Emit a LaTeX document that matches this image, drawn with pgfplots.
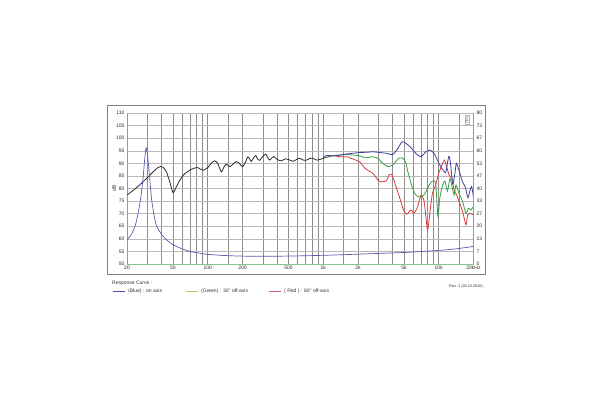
\documentclass[border=0pt]{standalone}
\usepackage{fontspec}
\setmainfont{Liberation Sans}
\usepackage{pgfplots}
\usepackage{pgfplotstable}
\pgfplotsset{compat=1.18}

\definecolor{cblue}{HTML}{3F3F9E}
\definecolor{cgreen}{HTML}{35A043}
\definecolor{cred}{HTML}{DA3B3B}
\definecolor{cimp}{HTML}{5A5AB0}
\definecolor{ccommon}{HTML}{2A2A2A}
\definecolor{lblue}{HTML}{5050B0}
\definecolor{lgreen}{HTML}{9CCF7A}
\definecolor{lred}{HTML}{E05A6A}

\pgfplotstableread{
f db
20 77.4
23 79.5
26 81.6
30 84.3
34 86.8
37 88.3
39 88.7
41 88.5
44 86.5
47 82.5
50 78.3
52 79.5
56 82.5
62 85.5
70 87.3
78 88.2
82 88.3
88 87.5
92 87.3
100 88.3
108 90.2
115 91.0
122 90.0
131 86.6
138 88.5
145 89.7
155 88.7
165 89.6
176 90.7
188 90.0
200 88.6
212 90.5
223 92.6
238 90.8
250 92.3
261 93.1
272 91.5
282 91.2
300 92.8
318 93.6
335 91.8
345 91.3
360 92.2
375 92.7
400 91.5
434 91.0
470 91.8
500 91.5
547 90.8
590 91.6
625 92.0
670 91.3
712 91.2
760 91.9
813 92.0
870 91.3
930 91.5
1000 92.0
}\common

\pgfplotstableread{
f db
1000 92.0
1060 93.1
1213 93.0
1400 93.3
1586 93.7
1800 94.0
2066 94.3
2400 94.4
2692 94.6
3100 94.3
3514 94.0
4000 93.5
4420 95.9
4820 98.6
5220 97.9
5760 96.2
6360 93.9
7020 92.6
7750 94.6
8430 95.3
9130 93.9
9740 91.3
10600 88.0
11000 87.2
11500 86.3
12200 92.8
12600 90.5
13200 81.8
13700 85.0
14200 90.0
14800 88.0
15500 85.0
16100 82.5
17000 80.5
17900 76.3
18600 79.0
19300 80.8
20000 76.2
}\onaxis

\pgfplotstableread{
f db
1000 92.0
1213 93.0
1586 93.5
2066 93.0
2300 92.2
2692 92.6
2970 92.0
3280 90.0
3610 88.7
4000 89.3
4420 91.7
4820 92.2
5160 90.6
5400 86.7
5760 82.0
6100 78.7
6400 77.2
6740 76.7
7200 76.8
7750 78.7
8260 81.4
8820 83.0
9400 82.0
9850 68.8
10200 76.0
10800 81.4
11300 83.0
11900 79.0
12500 84.0
13000 81.0
13600 77.4
14100 81.4
15000 78.0
16100 74.8
17200 70.1
18100 72.1
19000 71.5
20000 72.8
}\thirty

\pgfplotstableread{
f db
1000 92.0
1213 93.0
1410 92.6
1600 92.6
1810 91.7
2066 90.6
2300 88.0
2692 86.0
2970 83.4
3170 82.7
3514 83.0
3730 85.6
3950 85.3
4220 81.4
4560 76.7
4950 71.5
5280 69.8
5760 71.5
6100 70.1
6570 72.8
7020 77.4
7480 74.8
8000 63.5
8430 71.5
8820 78.1
9400 81.4
10000 86.0
10800 90.0
11200 91.3
11700 88.7
12300 85.3
13000 84.0
13600 79.4
14300 77.4
15000 74.8
16100 70.8
17200 65.5
17800 69.5
18600 70.1
20000 69.5
}\sixty

\pgfplotstableread{
f ohm
20 12.8
22 16
24 22
26 33
27.5 45
28.5 56
29.3 61.6
30.2 57
31.5 45
32.7 34
34.5 25
36.2 19.9
40 15.5
44 12.8
50 10.2
53.6 9.3
60 8
70 6.7
80 6
97.5 5.2
130 4.6
190 4.2
300 4.1
500 4.2
1000 4.6
2000 5.2
3000 5.6
5000 6.1
7000 6.6
10000 7.2
14000 8.0
20000 9.3
}\imped

\begin{document}
\begin{tikzpicture}[x=1pt,y=1pt]
\path[use as bounding box] (0,0) rectangle (600,400);
\draw[black!50, line width=0.6pt] (107,126) rectangle (485,295);

\begin{axis}[
  at={(127pt,136pt)}, anchor=south west, scale only axis,
  width=346.5pt, height=151pt,
  xmode=log, xmin=20, xmax=20000, ymin=50, ymax=110,
  xtick={20,30,40,50,60,70,80,90,100,150,200,300,400,500,600,700,800,900,1000,1500,2000,3000,4000,5000,6000,7000,8000,9000,10000,15000,20000},
  xticklabels={20,{},{},50,{},{},{},{},100,{},200,{},{},500,{},{},{},{},1k,{},2k,{},{},5k,{},{},{},{},10k,{},20kHz},
  ytick={50,55,...,110},
  xmajorgrids, ymajorgrids,
  x grid style={color=black!45, line width=0.6pt},
  y grid style={color=black!28, line width=0.5pt},
  axis line style={draw=black!40, line width=0.5pt},
  axis y line*=left, axis x line*=bottom,
  tick style={draw=none},
  tick label style={font=\fontsize{5}{6}\selectfont, text=black!85},
  xticklabel style={yshift=1.5pt},
  yticklabel style={xshift=1pt},
  /pgf/number format/assume math mode=true,
  clip=true,
]
\addplot[cgreen!60, line width=0.6pt] coordinates {(20,50) (20000,50)};
\addplot[cred, line width=0.8pt, smooth, tension=0.35] table[x=f,y=db] {\sixty};
\addplot[cgreen, line width=0.8pt, smooth, tension=0.35] table[x=f,y=db] {\thirty};
\addplot[cblue, line width=0.8pt, smooth, tension=0.35] table[x=f,y=db] {\onaxis};
\addplot[ccommon, line width=0.8pt, smooth, tension=0.35] table[x=f,y=db] {\common};
\end{axis}

\begin{axis}[
  at={(127pt,136pt)}, anchor=south west, scale only axis,
  width=346.5pt, height=151pt,
  xmode=log, xmin=20, xmax=20000, ymin=0, ymax=80,
  axis x line=none, axis y line*=right,
  axis line style={draw=black!40, line width=0.5pt},
  ytick={0,6.6667,13.3333,20,26.6667,33.3333,40,46.6667,53.3333,60,66.6667,73.3333,80},
  yticklabels={0,7,13,20,27,33,40,47,53,60,67,73,80},
  tick style={draw=none},
  tick label style={font=\fontsize{5}{6}\selectfont, text=black!85},
  yticklabel style={xshift=-0.5pt},
  /pgf/number format/assume math mode=true,
]
\addplot[cimp, line width=0.7pt, smooth, tension=0.4] table[x=f,y=ohm] {\imped};
\end{axis}

\node[rotate=90, font=\fontsize{5}{6}\selectfont, text=black!85] at (114,212) {dB};
\node[rotate=90, draw=black!30, fill=white, inner sep=0.6pt, font=\fontsize{3.5}{4}\selectfont, text=black!60] at (467,280) {Ohm};

\node[anchor=west, font=\fontsize{5}{6}\selectfont, text=black!80, inner sep=0pt] at (112,117) {Response Curve :};
\draw[draw=lblue, line width=0.8pt] (113,109) -- (125,109);
\node[anchor=west, font=\fontsize{5}{6}\selectfont, text=black!80, inner sep=0pt] at (128,109) {(Blue) : on axis};
\draw[draw=lgreen, line width=0.8pt] (186,109) -- (198,109);
\node[anchor=west, font=\fontsize{5}{6}\selectfont, text=black!80, inner sep=0pt] at (201,109) {(Green) : 30° off-axis};
\draw[draw=lred, line width=0.8pt] (269,109) -- (281,109);
\node[anchor=west, font=\fontsize{5}{6}\selectfont, text=black!80, inner sep=0pt] at (284,109) {( Red ) : 60° off-axis};
\node[anchor=east, font=\fontsize{3.8}{4.5}\selectfont, text=black!80, inner sep=0pt] at (483,113) {Rev. 1 (26.10.2016)};
\end{tikzpicture}
\end{document}
